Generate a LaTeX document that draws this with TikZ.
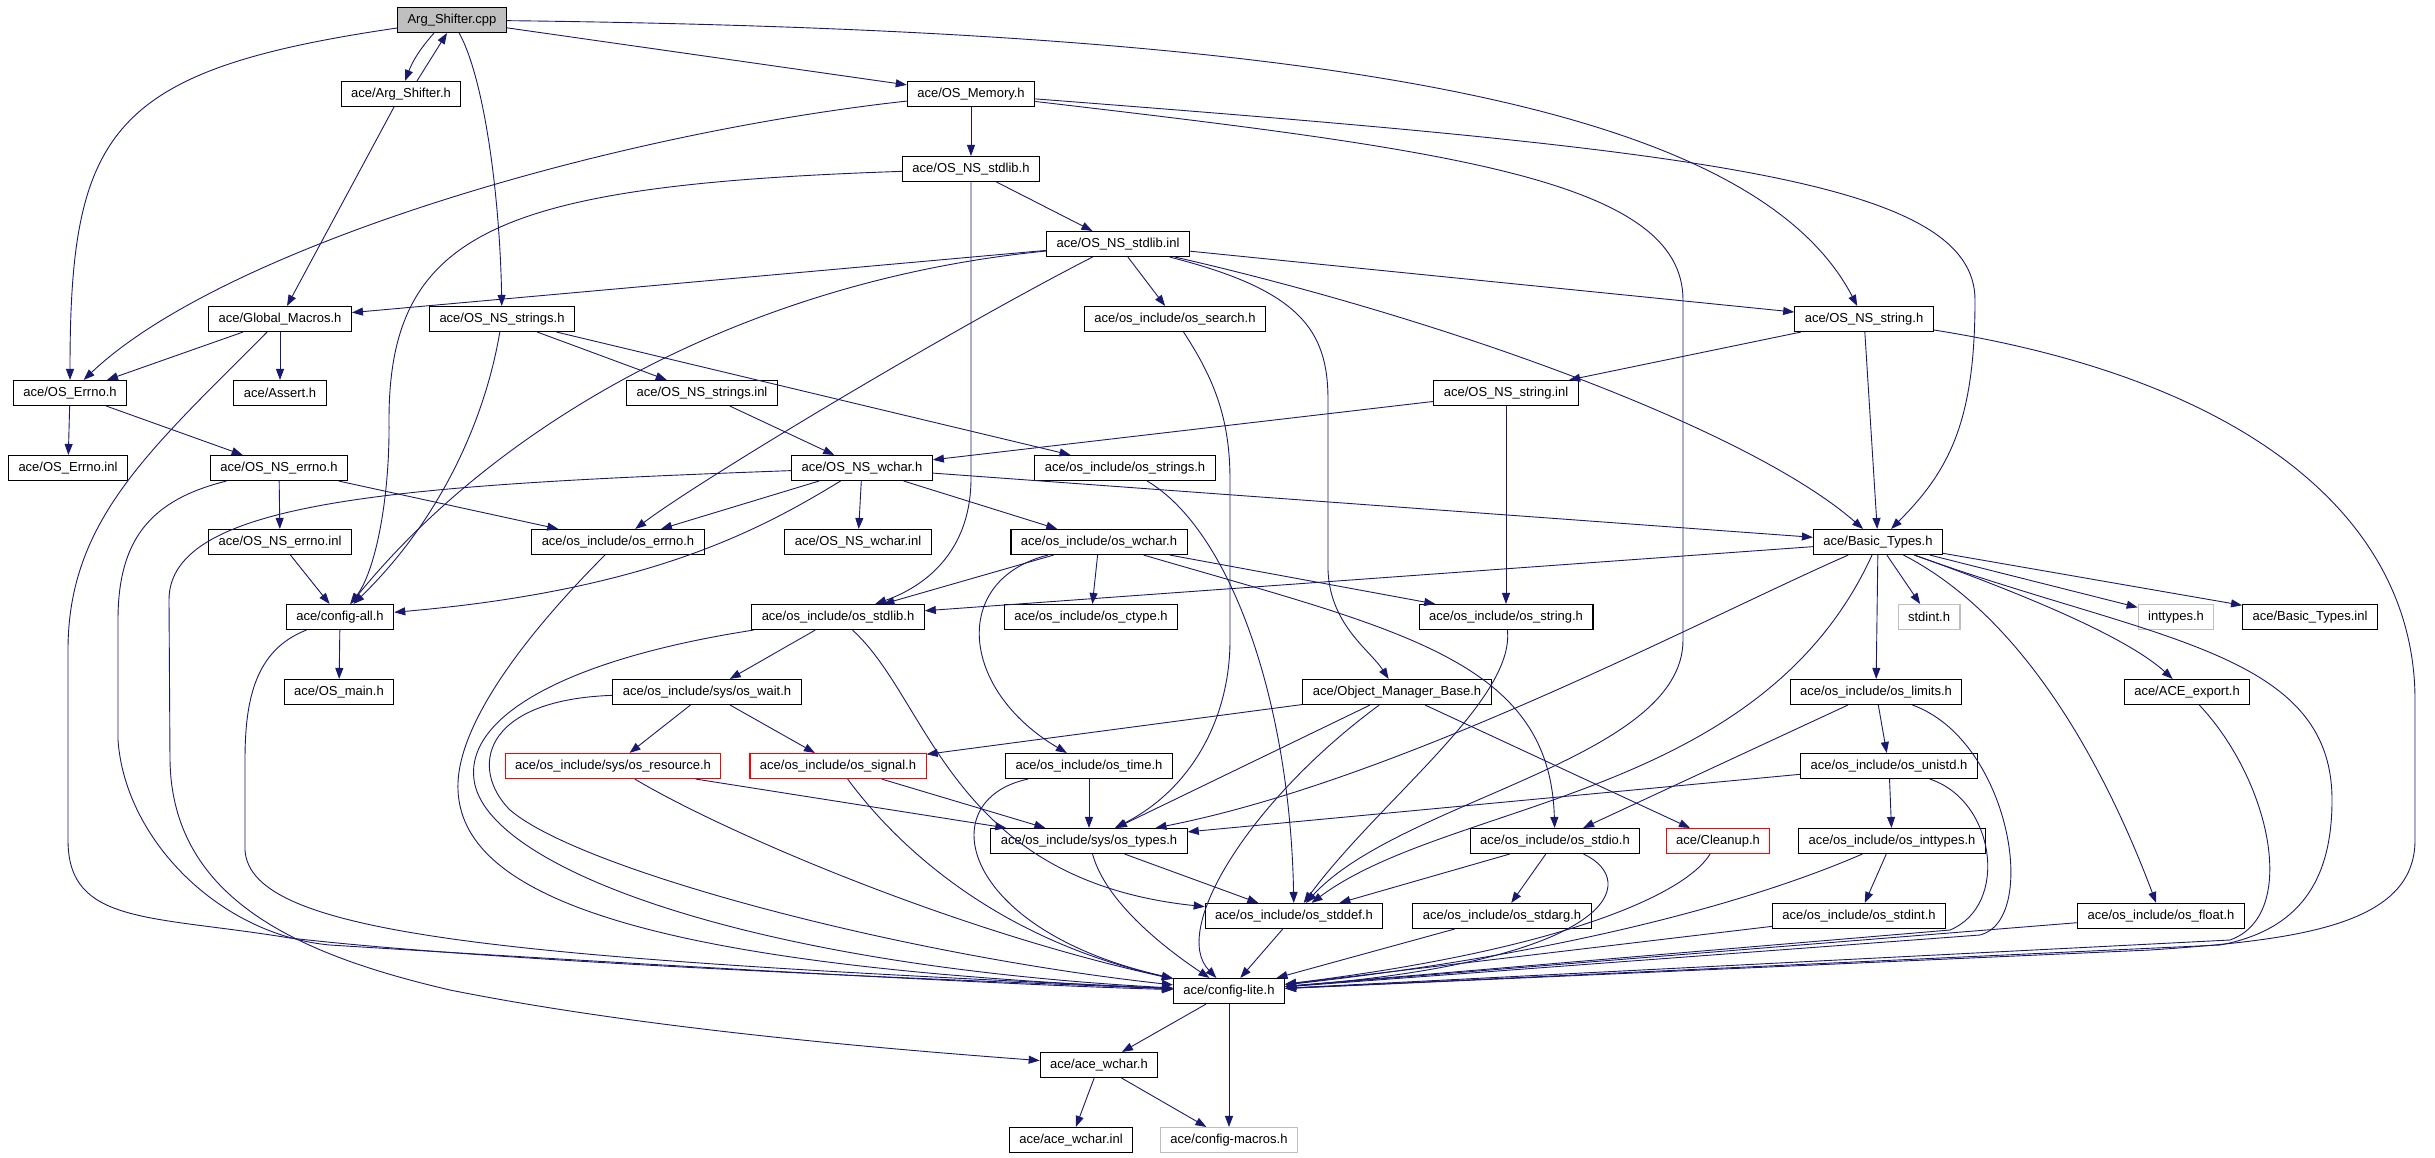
\documentclass[tikz,border=0pt]{standalone}
\usepackage{fontspec}
\setmainfont{Liberation Sans}
\usetikzlibrary{arrows.meta}
\definecolor{edgeblue}{RGB}{25,25,112}
\definecolor{boxgray}{RGB}{191,191,191}

\begin{document}
\begin{tikzpicture}
  [x=1pt,y=-1pt,
   hdrN/.style={rectangle,draw,line width=1.1pt,minimum height=25pt,inner xsep=10pt,inner ysep=0pt,font=\fontsize{13}{15}\selectfont},
   redN/.style={hdrN,draw=red},
   grayN/.style={hdrN,draw=boxgray},
   rootN/.style={hdrN,fill=boxgray},
   incl/.style={draw=edgeblue,line width=0.9pt,-{Triangle[length=11pt,width=8pt]}}]

  \useasboundingbox (0,0) rectangle (2435,1157);

  \node[rootN] (cpp) at (452,20) {Arg\_Shifter.cpp};
  \node[hdrN] (argh) at (401,94) {ace/Arg\_Shifter.h};
  \node[hdrN] (mem) at (971,94) {ace/OS\_Memory.h};
  \node[hdrN] (stdlibh) at (971,169) {ace/OS\_NS\_stdlib.h};
  \node[hdrN] (stdlibinl) at (1118,244) {ace/OS\_NS\_stdlib.inl};
  \node[hdrN] (glob) at (280,319) {ace/Global\_Macros.h};
  \node[hdrN] (strsh) at (502,319) {ace/OS\_NS\_strings.h};
  \node[hdrN] (search) at (1175,319) {ace/os\_include/os\_search.h};
  \node[hdrN] (strh) at (1864,319) {ace/OS\_NS\_string.h};
  \node[hdrN] (errno) at (70,393) {ace/OS\_Errno.h};
  \node[hdrN] (assert) at (280,393) {ace/Assert.h};
  \node[hdrN] (strsinl) at (702,393) {ace/OS\_NS\_strings.inl};
  \node[hdrN] (strinl) at (1506,393) {ace/OS\_NS\_string.inl};
  \node[hdrN] (errnoinl) at (68,468) {ace/OS\_Errno.inl};
  \node[hdrN] (nserrno) at (279,468) {ace/OS\_NS\_errno.h};
  \node[hdrN] (wcharh) at (862,468) {ace/OS\_NS\_wchar.h};
  \node[hdrN] (osstrings) at (1125,468) {ace/os\_include/os\_strings.h};
  \node[hdrN] (nserrnoinl) at (280,542) {ace/OS\_NS\_errno.inl};
  \node[hdrN] (oserrno) at (618,542) {ace/os\_include/os\_errno.h};
  \node[hdrN] (wcharinl) at (858,542) {ace/OS\_NS\_wchar.inl};
  \node[hdrN] (oswchar) at (1099,542) {ace/os\_include/os\_wchar.h};
  \node[hdrN] (basic) at (1878,542) {ace/Basic\_Types.h};
  \node[hdrN] (cfgall) at (340,617) {ace/config-all.h};
  \node[hdrN] (osstdlib) at (838,617) {ace/os\_include/os\_stdlib.h};
  \node[hdrN] (ctype) at (1091,617) {ace/os\_include/os\_ctype.h};
  \node[hdrN] (osstring) at (1506,617) {ace/os\_include/os\_string.h};
  \node[grayN] (stdint) at (1929,617) {stdint.h};
  \node[grayN] (inttypes) at (2176,617) {inttypes.h};
  \node[hdrN] (basicinl) at (2310,617) {ace/Basic\_Types.inl};
  \node[hdrN] (osmain) at (339,692) {ace/OS\_main.h};
  \node[hdrN] (wait) at (707,692) {ace/os\_include/sys/os\_wait.h};
  \node[hdrN] (omb) at (1397,692) {ace/Object\_Manager\_Base.h};
  \node[hdrN] (limits) at (1876,692) {ace/os\_include/os\_limits.h};
  \node[hdrN] (export) at (2187,692) {ace/ACE\_export.h};
  \node[redN] (resource) at (613,766) {ace/os\_include/sys/os\_resource.h};
  \node[redN] (signal) at (838,766) {ace/os\_include/os\_signal.h};
  \node[hdrN] (ostime) at (1089,766) {ace/os\_include/os\_time.h};
  \node[hdrN] (unistd) at (1889,766) {ace/os\_include/os\_unistd.h};
  \node[hdrN] (types) at (1089,841) {ace/os\_include/sys/os\_types.h};
  \node[hdrN] (stdio) at (1555,841) {ace/os\_include/os\_stdio.h};
  \node[redN] (cleanup) at (1718,841) {ace/Cleanup.h};
  \node[hdrN] (inttypesh) at (1892,841) {ace/os\_include/os\_inttypes.h};
  \node[hdrN] (stddef) at (1294,916) {ace/os\_include/os\_stddef.h};
  \node[hdrN] (stdarg) at (1502,916) {ace/os\_include/os\_stdarg.h};
  \node[hdrN] (stdinth) at (1859,916) {ace/os\_include/os\_stdint.h};
  \node[hdrN] (float) at (2161,916) {ace/os\_include/os\_float.h};
  \node[hdrN] (lite) at (1229,991) {ace/config-lite.h};
  \node[hdrN] (acewchar) at (1099,1065) {ace/ace\_wchar.h};
  \node[hdrN] (acewcharinl) at (1071,1140) {ace/ace\_wchar.inl};
  \node[grayN] (macros) at (1229,1140) {ace/config-macros.h};

  % straight includes
  \path (cpp) edge[incl] (mem)
        (argh) edge[incl] (glob)
        (mem) edge[incl] (stdlibh)
        (stdlibh) edge[incl] (stdlibinl)
        (stdlibinl) edge[incl] (glob) edge[incl] (search) edge[incl] (strh)
        (glob) edge[incl] (errno) edge[incl] (assert)
        (strsh) edge[incl] (strsinl) edge[incl] (osstrings)
        (strh) edge[incl] (strinl) edge[incl] (basic)
        (errno) edge[incl] (errnoinl) edge[incl] (nserrno)
        (strsinl) edge[incl] (wcharh)
        (strinl) edge[incl] (wcharh) edge[incl] (osstring)
        (nserrno) edge[incl] (nserrnoinl) edge[incl] (oserrno)
        (wcharh) edge[incl] (wcharinl) edge[incl] (oserrno) edge[incl] (oswchar) edge[incl] (basic)
        (nserrnoinl) edge[incl] (cfgall)
        (oswchar) edge[incl] (osstdlib) edge[incl] (ctype) edge[incl] (osstring)
        (basic) edge[incl] (osstdlib) edge[incl] (limits) edge[incl] (stdint) edge[incl] (inttypes) edge[incl] (basicinl)
        (cfgall) edge[incl] (osmain)
        (osstdlib) edge[incl] (wait)
        (wait) edge[incl] (resource) edge[incl] (signal)
        (omb) edge[incl] (signal) edge[incl] (types) edge[incl] (cleanup)
        (limits) edge[incl] (unistd) edge[incl] (stdio)
        (unistd) edge[incl] (inttypesh) edge[incl] (types)
        (inttypesh) edge[incl] (stdinth)
        (stdinth) edge[incl] (lite)
        (float) edge[incl] (lite)
        (stdio) edge[incl] (stdarg) edge[incl] (stddef)
        (stdarg) edge[incl] (lite)
        (stddef) edge[incl] (lite)
        (types) edge[incl] (stddef)
        (ostime) edge[incl] (types)
        (signal) edge[incl] (types)
        (resource) edge[incl] (types)
        (lite) edge[incl] (acewchar) edge[incl] (macros)
        (acewchar) edge[incl] (acewcharinl) edge[incl] (macros);

  % routed includes
  \draw[incl] ([xshift=-18pt]cpp.south) to[bend right=10] ([xshift=4pt]argh.north);
  \draw[incl] ([xshift=16pt]argh.north) -- ([xshift=-5pt]cpp.south);
  \draw[incl] (cpp) .. controls (110,70) and (70,130) .. (errno);
  \draw[incl] (cpp) .. controls (485,80) and (500,200) .. (strsh);
  \draw[incl] (cpp) .. controls (1300,30) and (1750,100) .. (strh);
  \draw[incl] (mem) .. controls (600,135) and (220,250) .. (errno);
  \draw[incl] (mem) .. controls (1700,150) and (1975,180) .. (1975,300)
                    .. controls (1975,420) and (1950,470) .. (basic);
  \draw[incl] (mem) .. controls (1450,150) and (1683,180) .. (1683,300) -- (1683,640)
                    .. controls (1683,760) and (1400,800) .. (stddef);
  \draw[incl] (stdlibh) .. controls (500,185) and (389,230) .. (389,420)
                        .. controls (390,500) and (375,572) .. (cfgall);
  \draw[incl] (stdlibh) -- (971,480) .. controls (970,560) and (915,590) .. (osstdlib);
  \draw[incl] (stdlibinl) .. controls (750,280) and (500,420) .. (cfgall);
  \draw[incl] (stdlibinl) .. controls (950,330) and (700,480) .. (oserrno);
  \draw[incl] (stdlibinl) .. controls (1300,290) and (1328,330) .. (1328,400) -- (1328,570)
                          .. controls (1330,625) and (1370,650) .. (omb);
  \draw[incl] (stdlibinl) .. controls (1450,320) and (1750,430) .. (basic);
  \draw[incl] (strsh) .. controls (485,420) and (440,520) .. (cfgall);
  \draw[incl] (strh) .. controls (2250,380) and (2415,520) .. (2415,700) -- (2415,840)
                     .. controls (2415,925) and (2300,940) .. (2150,950) -- (lite);
  \draw[incl] (glob) .. controls (150,450) and (68,520) .. (68,650) -- (68,840)
                     .. controls (68,925) and (150,915) .. (290,938)
                     .. controls (500,962) and (900,978) .. (lite);
  \draw[incl] (cfgall) .. controls (255,650) and (245,700) .. (245,760) -- (245,850)
                       .. controls (250,935) and (500,958) .. (lite);
  \draw[incl] (nserrno) .. controls (150,500) and (118,540) .. (118,620) -- (118,740)
                        .. controls (125,840) and (220,935) .. (330,945)
                        .. controls (600,962) and (1000,985) .. (lite);
  \draw[incl] (wcharh) .. controls (400,485) and (169,500) .. (169,600) -- (170,760)
                       .. controls (172,900) and (300,955) .. (450,990)
                       .. controls (650,1030) and (900,1050) .. (acewchar);
  \draw[incl] (wcharh) .. controls (760,530) and (650,590) .. (cfgall);
  \draw[incl] (oserrno) .. controls (540,620) and (455,720) .. (458,790)
                        .. controls (462,890) and (620,965) .. (lite);
  \draw[incl] (osstdlib) .. controls (560,660) and (460,720) .. (475,785)
                         .. controls (495,870) and (750,965) .. (lite);
  \draw[incl] (osstdlib) .. controls (930,700) and (950,880) .. (stddef);
  \draw[incl] (wait) .. controls (480,700) and (470,770) .. (510,810)
                     .. controls (580,870) and (900,955) .. (lite);
  \draw[incl] (resource) .. controls (720,830) and (950,930) .. (lite);
  \draw[incl] (signal) .. controls (900,850) and (1000,940) .. (lite);
  \draw[incl] (ostime) .. controls (930,800) and (960,930) .. (lite);
  \draw[incl] (types) .. controls (1105,900) and (1160,945) .. (lite);
  \draw[incl] (omb) .. controls (1250,800) and (1170,930) .. (lite);
  \draw[incl] (oswchar) .. controls (950,580) and (960,690) .. (ostime);
  \draw[incl] (oswchar) .. controls (1400,630) and (1550,660) .. (stdio);
  \draw[incl] (search) .. controls (1215,380) and (1230,420) .. (1230,480) -- (1230,640)
                       .. controls (1230,720) and (1190,790) .. (types);
  \draw[incl] (osstrings) .. controls (1230,530) and (1290,700) .. (stddef);
  \draw[incl] (osstring) .. controls (1515,700) and (1380,800) .. (stddef);
  \draw[incl] (basic) .. controls (1700,620) and (1400,780) .. (types);
  \draw[incl] (basic) .. controls (1760,800) and (1450,800) .. (stddef);
  \draw[incl] (basic) .. controls (2030,620) and (2110,780) .. (float);
  \draw[incl] (basic) .. controls (2040,600) and (2130,640) .. (export);
  \draw[incl] (basic) .. controls (2150,640) and (2332,650) .. (2332,800)
                      .. controls (2332,880) and (2300,930) .. (2220,945) -- (lite);
  \draw[incl] (limits) .. controls (2010,740) and (2040,920) .. (1980,935) -- (lite);
  \draw[incl] (unistd) .. controls (1995,800) and (2010,905) .. (1950,930) -- (lite);
  \draw[incl] (inttypesh) .. controls (1780,890) and (1600,950) .. (lite);
  \draw[incl] (export) .. controls (2270,780) and (2300,915) .. (2230,940) -- (lite);
  \draw[incl] (cleanup) .. controls (1685,895) and (1560,950) .. (lite);
  \draw[incl] (stdio) .. controls (1640,880) and (1620,960) .. (lite);
\end{tikzpicture}
\end{document}
